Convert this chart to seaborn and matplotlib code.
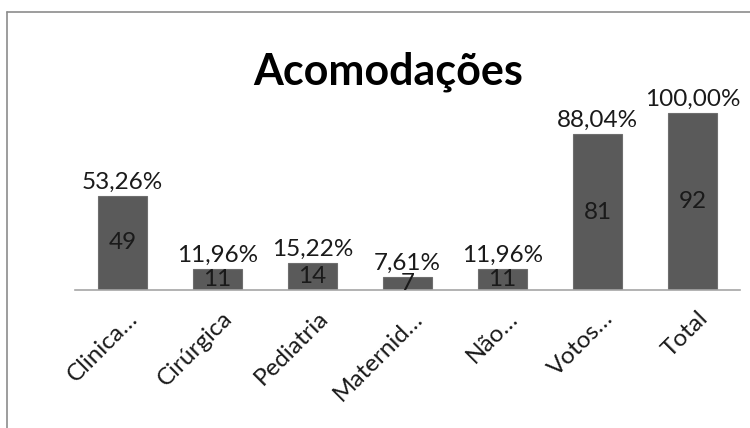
import matplotlib
matplotlib.use("Agg")
import matplotlib.pyplot as plt
import matplotlib.transforms as mtransforms
import seaborn as sns
import pandas as pd
from matplotlib.lines import Line2D

categorias = ["Clinica…", "Cirúrgica", "Pediatria", "Maternid…", "Não…", "Votos…", "Total"]
quantidades = [49, 11, 14, 7, 11, 81, 92]
percentuais = ["53,26%", "11,96%", "15,22%", "7,61%", "11,96%", "88,04%", "100,00%"]

df = pd.DataFrame({"cat": categorias, "n": quantidades})

sns.set_style("white")
plt.rcParams["font.family"] = ["Lato", "DejaVu Sans"]

fig = plt.figure(figsize=(7.5, 4.28), dpi=100)
ax = fig.add_axes([75 / 750, 138 / 428, 665 / 750, 230 / 428])

sns.barplot(data=df, x="cat", y="n", color="#5a5a5a", width=0.52, ax=ax,
            saturation=1, edgecolor="#6e6e6e", linewidth=0.8)

ax.set_ylim(0, 119.5)
ax.set_xlim(-0.5, 6.5)

# rótulos: quantidade no meio da barra, percentual em cima
for i, (n, p) in enumerate(zip(quantidades, percentuais)):
    ax.text(i, n / 2, str(n), ha="center", va="center", fontsize=17.5, color="#1a1a1a")
    ax.annotate(p, (i, n), xytext=(0, 2), textcoords="offset points",
                ha="center", va="bottom", fontsize=17.5, color="#1a1a1a")

ax.set_xlabel("")
ax.set_ylabel("")
ax.set_yticks([])
for s in ["top", "right", "left"]:
    ax.spines[s].set_visible(False)
ax.spines["bottom"].set_color("#a6a6a6")
ax.spines["bottom"].set_linewidth(1.2)
ax.tick_params(axis="x", length=0, labelbottom=False)

# rótulos do eixo x inclinados (estilo Excel: fim do texto logo abaixo da barra)
desloc = mtransforms.ScaledTranslation(0.12, -0.25, fig.dpi_scale_trans)
for i, cat in enumerate(categorias):
    ax.text(i, 0, cat, transform=ax.get_xaxis_transform() + desloc,
            rotation=45, rotation_mode="anchor", ha="right", va="center",
            fontsize=17.5, color="#1a1a1a")

fig.text(388 / 750, 1 - 72 / 428, "Acomodações", ha="center", va="center",
         fontsize=31, fontweight="bold", color="black")

# moldura do gráfico
fig.add_artist(Line2D([7 / 750, 7 / 750], [0, 1 - 12 / 428], color="#8c8c8c", lw=1.2))
fig.add_artist(Line2D([7 / 750, 1], [1 - 12 / 428, 1 - 12 / 428], color="#8c8c8c", lw=1.2))

fig.savefig("out.png", dpi=100)
